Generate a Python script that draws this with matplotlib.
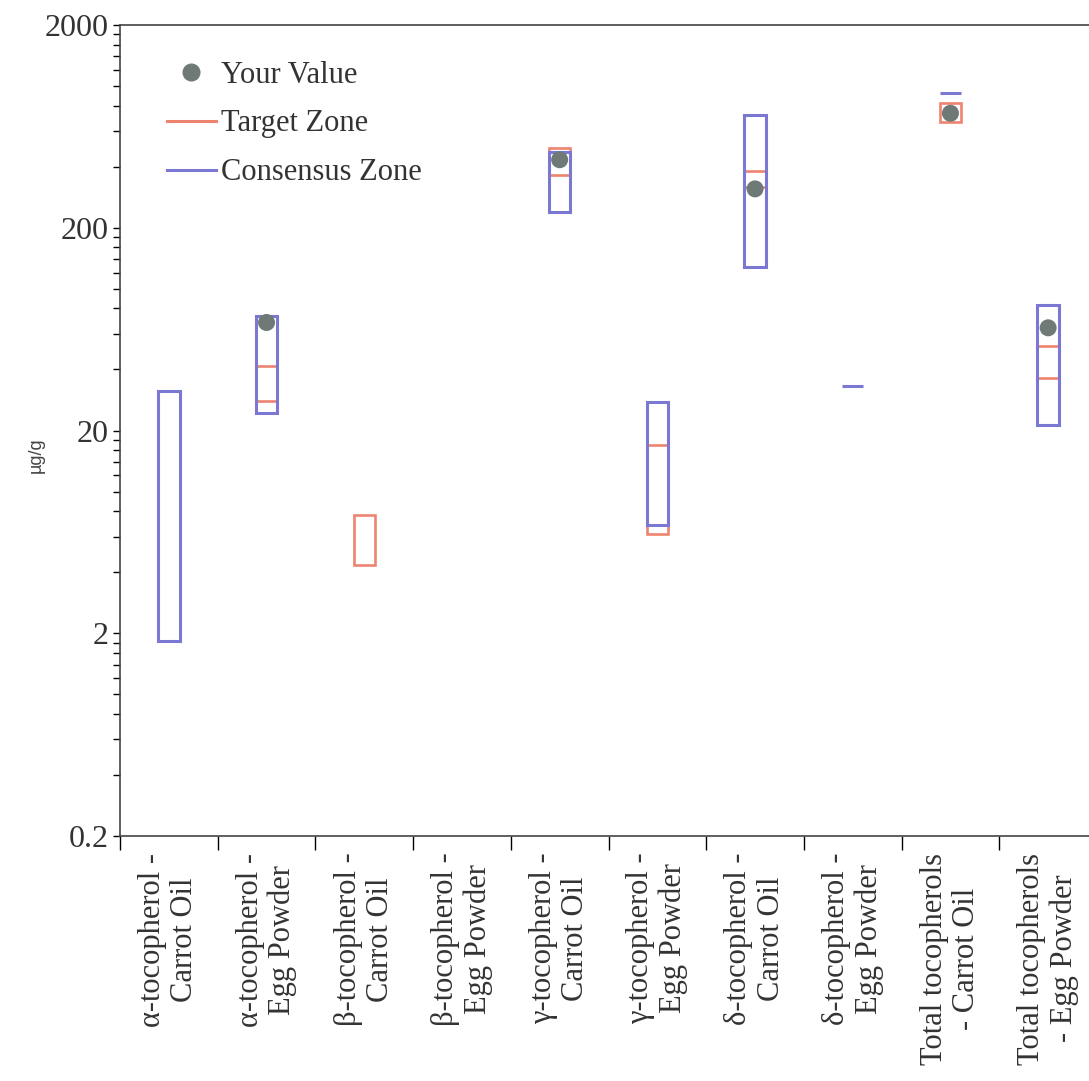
import numpy as np
import matplotlib
matplotlib.use("Agg")
import matplotlib.pyplot as plt
from matplotlib.patches import Rectangle
from matplotlib.lines import Line2D
from matplotlib.ticker import FixedLocator, NullFormatter

nan = np.nan
categories = [
    "α-tocopherol -\nCarrot Oil",
    "α-tocopherol -\nEgg Powder",
    "β-tocopherol -\nCarrot Oil",
    "β-tocopherol -\nEgg Powder",
    "γ-tocopherol -\nCarrot Oil",
    "γ-tocopherol -\nEgg Powder",
    "δ-tocopherol -\nCarrot Oil",
    "δ-tocopherol -\nEgg Powder",
    "Total tocopherols\n- Carrot Oil",
    "Total tocopherols\n- Egg Powder",
]
consensus_low = [1.83, 24.5, nan, nan, 238, 6.8, 128, 33.3, 927, 21.2]
consensus_high = [31.5, 73, nan, nan, 474, 27.5, 721, 33.3, 927, 83.6]
target_low = [nan, 28.1, 4.32, nan, 365, 6.14, 319, nan, 665, 36.1]
target_high = [nan, 41.4, 7.62, nan, 496, 16.9, 382, nan, 825, 52.5]
your_value = [nan, 68.2, nan, nan, 433, nan, 311, nan, 734, 64.2]
y_ticks = [0.2, 2, 20, 200, 2000]
y_tick_labels = ["0.2", "2", "20", "200", "2000"]

blue = "#7A78D2"
red = "#EE8470"
gray = "#6F7A76"
serif = "Liberation Serif"
txt = "#333333"

fig = plt.figure(figsize=(10.89, 10.81), dpi=100)
ax = fig.add_axes([120/1089, 1-836/1081, 977/1089, (836-25)/1081])
ax.set_yscale("log")
ax.set_ylim(0.2, 2000)
ax.set_xlim(0, len(categories))

w = 0.22
for i in range(len(categories)):
    xc = i + 0.5
    if not np.isnan(target_low[i]):
        ax.add_patch(Rectangle((xc - w/2, target_low[i]), w, target_high[i]-target_low[i],
                               fill=False, edgecolor=red, lw=1.9, zorder=2))
    if not np.isnan(consensus_low[i]):
        ax.add_patch(Rectangle((xc - w/2, consensus_low[i]), w, consensus_high[i]-consensus_low[i],
                               fill=False, edgecolor=blue, lw=2.2, zorder=3))

xs = np.arange(len(categories)) + 0.5
yv = np.array(your_value)
m = ~np.isnan(yv)
ax.scatter(xs[m], yv[m], s=150, color=gray, zorder=4, edgecolors="none")

# ticks
ax.set_yticks(y_ticks)
ax.set_yticklabels(y_tick_labels, fontfamily=serif, fontsize=23, color=txt)
minor = []
for d in [0.1, 1, 10, 100]:
    for k in [4, 6, 8, 10, 12, 14, 16, 18]:
        minor.append(k * d)
ax.yaxis.set_minor_locator(FixedLocator(minor))
ax.yaxis.set_minor_formatter(NullFormatter())
ax.tick_params(axis="y", which="major", length=5, width=1, direction="out", pad=3)
ax.tick_params(axis="y", which="minor", length=5, width=1, direction="out")

ax.set_xticks(np.arange(len(categories)+1))
ax.set_xticklabels([])
ax.set_xticks(xs, minor=True)
ax.set_xticklabels(categories, minor=True, rotation=90, fontfamily=serif,
                   fontsize=22, color=txt, ha="center", va="top",
                   multialignment="center", linespacing=1.15)
ax.tick_params(axis="x", which="major", length=10, width=1, direction="out")
ax.tick_params(axis="x", which="minor", length=0, pad=12)

for s in ["left", "bottom", "top"]:
    ax.spines[s].set_color("#444444")
    ax.spines[s].set_linewidth(1.2)
ax.spines["right"].set_visible(False)

ax.set_ylabel("µg/g", fontfamily="Liberation Sans", fontsize=13, color="#444444")
ax.yaxis.set_label_coords(-0.077, 0.47)

handles = [
    Line2D([], [], marker="o", linestyle="none", markersize=12, color=gray),
    Line2D([], [], color=red, lw=2.2),
    Line2D([], [], color=blue, lw=2.2),
]
leg = ax.legend(handles, ["Your Value", "Target Zone", "Consensus Zone"],
                loc="upper left", bbox_to_anchor=(0.02, 0.99), frameon=False,
                prop={"family": serif, "size": 22}, handlelength=1.6,
                handletextpad=0.15, labelspacing=0.65)
for t in leg.get_texts():
    t.set_color(txt)

fig.savefig("out.png", dpi=100)
